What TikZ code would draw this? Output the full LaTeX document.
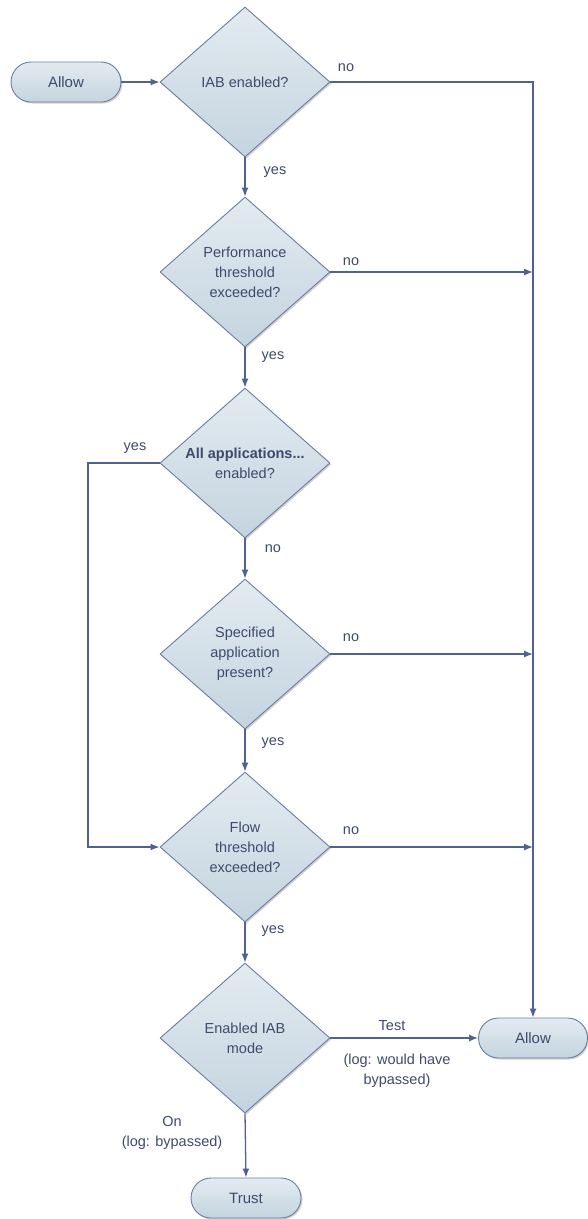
\documentclass[tikz,border=0pt]{standalone}
\usepackage{fontspec}
\setmainfont{Liberation Sans}
\usetikzlibrary{arrows.meta,shapes.geometric,shadows}
\definecolor{lineC}{HTML}{50628F}
\definecolor{edgeC}{HTML}{6A7CA3}
\definecolor{txtC}{HTML}{3E4A6C}
\definecolor{fillTop}{HTML}{E3EBF1}
\definecolor{fillBot}{HTML}{C4D4DF}
\tikzset{
  dec/.style={diamond, draw=edgeC, line width=0.9pt, top color=fillTop, bottom color=fillBot,
    minimum width=170pt, minimum height=150pt, inner sep=0pt, align=center,
    text=txtC, font=\fontsize{14.5pt}{20pt}\selectfont,
    drop shadow={shadow xshift=1.5pt, shadow yshift=-1.5pt, opacity=0.18, fill=black}},
  term/.style={rectangle, rounded corners=20pt, draw=edgeC, line width=0.9pt, top color=fillTop, bottom color=fillBot,
    minimum width=110pt, minimum height=40pt, inner sep=0pt, text=txtC,
    font=\fontsize{15pt}{20pt}\selectfont,
    drop shadow={shadow xshift=1.5pt, shadow yshift=-1.5pt, opacity=0.18, fill=black}},
  lbl/.style={text=txtC, font=\fontsize{14.5pt}{20pt}\selectfont, align=center, inner sep=0pt},
  flow/.style={draw=lineC, line width=1.3pt, -{Latex[length=9pt,width=7pt]}},
  plain/.style={draw=lineC, line width=1.3pt},
}
\begin{document}
\begin{tikzpicture}[x=1pt,y=-1pt]
\useasboundingbox (0,0) rectangle (588,1219);
% nodes
\node[term] (start) at (66,82) {Allow};
\node[dec] (d1) at (245,82) {IAB enabled?};
\node[dec] (d2) at (245,272) {Performance\\threshold\\exceeded?};
\node[dec] (d3) at (245,463) {\textbf{All applications...}\\enabled?};
\node[dec] (d4) at (245,654) {Specified\\application\\present?};
\node[dec] (d5) at (245,847) {Flow\\threshold\\exceeded?};
\node[dec] (d6) at (245,1038) {Enabled IAB\\mode};
\node[term, minimum width=109pt] (allow) at (533,1038) {Allow};
\node[term] (trust) at (246,1198) {Trust};
\coordinate (c1) at (533,82);
\coordinate (y1) at (88,463);
\coordinate (y2) at (88,847);
% connectors
\draw[flow] (start) -- (d1.west);
\draw[flow] (d1.east) -- (c1) -- (allow.north);
\draw[flow] (d1.south) -- (d2.north);
\draw[flow] (d2.east) -- (d2.east -| c1);
\draw[flow] (d2.south) -- (d3.north);
\draw[flow] (d3.west) -- (y1) -- (y2) -- (d5.west);
\draw[flow] (d3.south) -- (d4.north);
\draw[flow] (d4.east) -- (d4.east -| c1);
\draw[flow] (d4.south) -- (d5.north);
\draw[flow] (d5.east) -- (d5.east -| c1);
\draw[flow] (d5.south) -- (d6.north);
\draw[flow] (d6.east) -- (allow.west);
\draw[flow] (d6.south) -- (trust.north);
% labels
\node[lbl] (l1) at (346,68) {no};
\node[lbl] (l2) at (275,172) {yes};
\node[lbl] (l3) at (351,262) {no};
\node[lbl] (l4) at (273,357) {yes};
\node[lbl] (l5) at (135,448) {yes};
\node[lbl] (l6) at (273,549) {no};
\node[lbl] (l7) at (351,638) {no};
\node[lbl] (l8) at (273,743) {yes};
\node[lbl] (l9) at (351,831) {no};
\node[lbl] (l10) at (273,931) {yes};
\node[lbl] (l11) at (392,1026) {Test};
\node[lbl] (l12) at (397,1071) {(log: would have\\bypassed)};
\node[lbl] (l13) at (172,1133) {On\\(log: bypassed)};
\end{tikzpicture}
\end{document}
